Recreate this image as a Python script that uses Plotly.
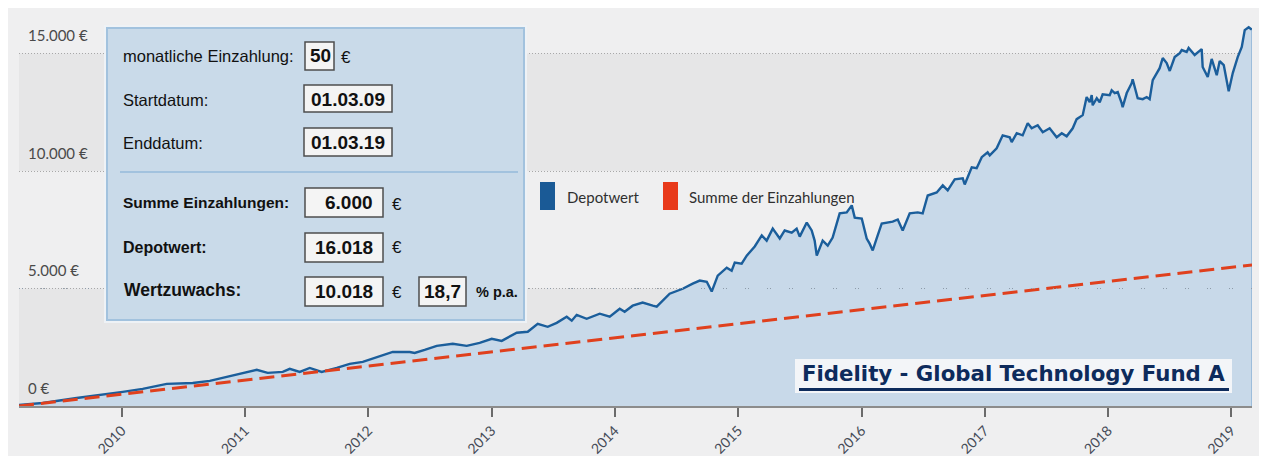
import plotly.graph_objects as go

# ---------------- data ----------------
depot_years = [
    2009.167, 2009.359, 2009.635, 2009.903, 2010.008, 2010.170, 2010.365, 2010.576, 2010.714, 2010.852,
    2010.981, 2011.095, 2011.184, 2011.306, 2011.363, 2011.444, 2011.525, 2011.622, 2011.744, 2011.849,
    2011.955, 2012.068, 2012.198, 2012.336, 2012.376, 2012.457, 2012.555, 2012.685, 2012.798, 2012.903,
    2013.001, 2013.082, 2013.204, 2013.293, 2013.374, 2013.455, 2013.528, 2013.609, 2013.650, 2013.690,
    2013.771, 2013.877, 2013.958, 2014.039, 2014.079, 2014.144, 2014.225, 2014.307, 2014.339, 2014.444,
    2014.550, 2014.631, 2014.688, 2014.745, 2014.785, 2014.834, 2014.907, 2014.947, 2014.972, 2015.028,
    2015.069, 2015.134, 2015.191, 2015.231, 2015.280, 2015.337, 2015.377, 2015.434, 2015.474, 2015.499,
    2015.556, 2015.596, 2015.620, 2015.637, 2015.685, 2015.726, 2015.766, 2015.823, 2015.880, 2015.921,
    2015.945, 2016.002, 2016.042, 2016.066, 2016.091, 2016.123, 2016.164, 2016.253, 2016.294, 2016.334,
    2016.391, 2016.456, 2016.496, 2016.537, 2016.610, 2016.659, 2016.699, 2016.756, 2016.821, 2016.837,
    2016.894, 2016.934, 2016.975, 2017.023, 2017.040, 2017.096, 2017.145, 2017.202, 2017.218, 2017.259,
    2017.307, 2017.348, 2017.380, 2017.429, 2017.470, 2017.526, 2017.583, 2017.624, 2017.664, 2017.713,
    2017.745, 2017.794, 2017.826, 2017.851, 2017.867, 2017.875, 2017.908, 2017.932, 2017.956, 2018.013,
    2018.029, 2018.054, 2018.078, 2018.110, 2018.118, 2018.151, 2018.191, 2018.199, 2018.240, 2018.281,
    2018.313, 2018.337, 2018.362, 2018.418, 2018.443, 2018.475, 2018.500, 2018.540, 2018.581, 2018.597,
    2018.637, 2018.653, 2018.702, 2018.759, 2018.767, 2018.808, 2018.840, 2018.881, 2018.905, 2018.938,
    2018.962, 2018.978, 2019.011, 2019.051, 2019.084, 2019.108, 2019.140, 2019.167,
]
depot_values = [
    50, 130, 340, 510, 600, 730, 940, 980, 1070, 1240,
    1410, 1540, 1410, 1450, 1580, 1450, 1620, 1450, 1620, 1790,
    1880, 2090, 2300, 2300, 2260, 2390, 2560, 2650, 2560, 2690,
    2860, 2770, 3120, 3160, 3500, 3370, 3540, 3800, 3630, 3880,
    3710, 3930, 3800, 4140, 4010, 4270, 4400, 4270, 4230, 4780,
    4990, 5210, 5340, 5290, 4870, 5550, 5890, 5760, 6100, 6060,
    6400, 6790, 7260, 7040, 7550, 7130, 7470, 7380, 7550, 7210,
    7810, 7470, 7040, 6400, 7040, 6830, 7170, 8200, 8240, 8540,
    8020, 7980, 7130, 6910, 6620, 7130, 7770, 7850, 7940, 7470,
    8200, 8240, 8200, 8960, 9090, 9390, 9180, 9650, 9690, 9430,
    10160, 10120, 10590, 10800, 10670, 10970, 11520, 11440, 11230, 11610,
    11520, 12040, 11820, 11950, 11650, 11820, 11440, 11610, 11480, 11820,
    12210, 12380, 13150, 12930, 13230, 12800, 13100, 12930, 13270, 13230,
    13440, 13320, 13360, 12890, 12720, 13320, 13740, 13910, 13100, 13060,
    13150, 13060, 13870, 14380, 14810, 14600, 14260, 14850, 15020, 15150,
    15070, 15240, 14940, 15190, 14430, 14000, 14770, 14080, 14680, 14510,
    13910, 13400, 14170, 14850, 15280, 16000, 16120, 16018,
]
einzahlung_years = [2009.167, 2010.167, 2011.167, 2012.167, 2013.167, 2014.167,
                    2015.167, 2016.167, 2017.167, 2018.167, 2019.167]
einzahlung_values = [0, 600, 1200, 1800, 2400, 3000, 3600, 4200, 4800, 5400, 6000]

year_ticks = [2010, 2011, 2012, 2013, 2014, 2015, 2016, 2017, 2018, 2019]
year_labels = ["2010", "2011", "2012", "2013", "2014", "2015", "2016", "2017", "2018", "2019"]
y_grid_values = [5000, 10000, 15000]
y_label_values = [0, 5000, 10000, 15000]
y_label_texts = ["0 €", "5.000 €", "10.000 €", "15.000 €"]

series_names = ["Depotwert", "Summe der Einzahlungen"]
title_text = "Fidelity - Global Technology Fund A"
monthly_rate = "50"
start_date = "01.03.09"
end_date = "01.03.19"
sum_deposits = "6.000"
depot_value = "16.018"
gain_value = "10.018"
gain_pa = "18,7"

# ---------------- layout geometry ----------------
# the page body adds an 8px white margin; the figure is sized to fill the rest
OFF = 8
W, H = 1267 - OFF, 456 - OFF
L, R, T, B = 11, 15, 0, 50
PW, PH = W - L - R, H - T - B


def px(x):  # x in screenshot pixels
    return (x - OFF - L) / PW


def py(y):  # y in screenshot pixels
    return (H - B - (y - OFF)) / PH


BLUE = "#1b5e9b"
RED = "#e0401d"
FILL = "#c8d9e9"

fig = go.Figure()

fig.add_trace(go.Scatter(
    x=depot_years, y=depot_values, mode="lines", name=series_names[0],
    line=dict(color=BLUE, width=2.4), fill="tozeroy", fillcolor=FILL,
    showlegend=False, hoverinfo="skip"))
fig.add_trace(go.Scatter(
    x=[depot_years[-1], depot_years[-1]], y=[0, depot_values[-1]], mode="lines",
    line=dict(color="#8fb3d6", width=1.5), showlegend=False, hoverinfo="skip"))
fig.add_trace(go.Scatter(
    x=einzahlung_years, y=einzahlung_values, mode="lines", name=series_names[1],
    line=dict(color=RED, width=3, dash="15px,7px"), showlegend=False, hoverinfo="skip"))

shapes = []
# alternating bands
for lo, hi in [(0, 5000), (10000, 15000)]:
    shapes.append(dict(type="rect", xref="paper", yref="y", x0=0, x1=1, y0=lo, y1=hi,
                       fillcolor="#e6e6e7", line=dict(width=0), layer="below"))
# sparse dots over the fill at 5000
shapes.append(dict(type="line", xref="paper", yref="y", x0=0, x1=1, y0=5000, y1=5000,
                   line=dict(color="#8d9aa8", width=1, dash="1px,2px,1px,18px"), layer="above"))


def prect(x0, y0, x1, y1, fill, line_color=None, lw=0):
    shapes.append(dict(type="rect", xref="paper", yref="paper",
                       x0=px(x0), x1=px(x1), y0=py(y1), y1=py(y0),
                       fillcolor=fill,
                       line=dict(color=line_color or fill, width=lw), layer="above"))


# info box
prect(104, 25, 527, 323, "#eef2f6")
prect(107, 28, 524, 320, "#c9dae9", "#a2c2de", 2)
shapes.append(dict(type="line", xref="paper", yref="paper", x0=px(120), x1=px(518), y0=py(172), y1=py(172),
                   line=dict(color="#a2c2de", width=2), layer="above"))
BOXF, BOXL = "#f4f4f4", "#4d4d4d"
prect(305, 42, 334, 70, BOXF, BOXL, 1.5)
prect(304, 85, 392, 112, BOXF, BOXL, 1.5)
prect(304, 128, 392, 156, BOXF, BOXL, 1.5)
prect(305, 188, 383, 217, BOXF, BOXL, 1.5)
prect(305, 233, 383, 262, BOXF, BOXL, 1.5)
prect(305, 277, 383, 306, BOXF, BOXL, 1.5)
prect(419, 277, 466, 306, BOXF, BOXL, 1.5)
# legend swatches
prect(540, 182, 555, 210, "#1a5a96")
prect(663, 182, 678, 210, "#e8391a")
# title box
prect(795, 359, 1232, 393, "#f3f5f8")
prect(799, 388, 1229, 391, "#0d2b5c")

ann = []


def text(x, y, s, size, bold=False, anchor="left", family="Liberation Sans, Arial", color="#111111"):
    ann.append(dict(xref="paper", yref="paper", x=px(x), y=py(y), text=("<b>%s</b>" % s) if bold else s,
                    showarrow=False, xanchor=anchor, yanchor="middle",
                    font=dict(family=family, size=size, color=color)))


text(120.5, 56, "monatliche Einzahlung:", 16.5)
text(120.5, 100, "Startdatum:", 16.5)
text(120.5, 143, "Enddatum:", 16.5)
text(121, 203, "Summe Einzahlungen:", 15.5, bold=True)
text(120.5, 247, "Depotwert:", 16, bold=True)
text(122, 290, "Wertzuwachs:", 17.5, bold=True)

text(320, 56, monthly_rate, 19, bold=True, anchor="center")
text(348, 99, start_date, 19, bold=True, anchor="center")
text(348, 142, end_date, 19, bold=True, anchor="center")
text(375, 203, sum_deposits, 19, bold=True, anchor="right")
text(375, 247, depot_value, 19, bold=True, anchor="right")
text(375, 291, gain_value, 19, bold=True, anchor="right")
text(442, 291, gain_pa, 19, bold=True, anchor="center")
text(346, 57, "€", 17, anchor="center")
for yy in (204, 248, 292):
    text(397, yy, "€", 17, anchor="center")
text(474.5, 292, "% p.a.", 14.5, bold=True)

# legend texts
text(565, 197, series_names[0], 15, family="Lato", color="#2f2f2f")
text(687, 197, series_names[1], 15, family="Lato", color="#2f2f2f")

# title
text(1013.5, 373, title_text, 21.3, bold=True, anchor="center", family="DejaVu Sans", color="#0d2b5c")

# y labels
for v, s in zip(y_label_values, y_label_texts):
    ann.append(dict(xref="paper", yref="y", x=px(26), y=v, yshift=18.5, text=s, showarrow=False,
                    xanchor="left", yanchor="middle",
                    font=dict(family="Lato", size=15, color="#4a4a4a")))

fig.update_layout(
    width=W, height=H,
    margin=dict(l=L, r=R, t=T, b=B, pad=0),
    paper_bgcolor="#efeff0", plot_bgcolor="#efeff0",
    shapes=shapes, annotations=ann, showlegend=False,
    xaxis=dict(range=[einzahlung_years[0], einzahlung_years[-1]], tickmode="array",
               tickvals=year_ticks, ticktext=year_labels, tickangle=-45,
               ticks="outside", ticklen=9, tickwidth=2, tickcolor="#6b6b6b",
               showline=True, linecolor="#8c8c8c", linewidth=2, showgrid=False, zeroline=False,
               tickfont=dict(family="Lato", size=14, color="#454b57"), fixedrange=True),
    yaxis=dict(range=[0, 16940], tickmode="array", tickvals=y_grid_values, showticklabels=False,
               showgrid=True, gridcolor="#a8a8a8", griddash="1px,2px", gridwidth=1,
               zeroline=False, showline=False, ticks="", fixedrange=True),
)

fig.write_html("out.html")
